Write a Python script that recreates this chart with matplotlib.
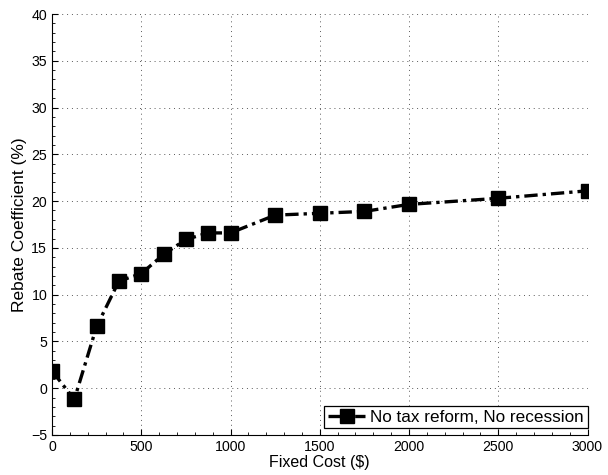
import matplotlib
matplotlib.use("Agg")
import matplotlib.pyplot as plt
from matplotlib.ticker import AutoMinorLocator

plt.rcParams['font.family'] = ['Liberation Sans', 'DejaVu Sans']
plt.rcParams['font.size'] = 10.2
plt.rcParams['axes.unicode_minus'] = True

# data
fixed_cost = [0, 125, 250, 375, 500, 625, 750, 875, 1000, 1250, 1500, 1750, 2000, 2500, 3000]
rebate = [1.85, -1.2, 6.6, 11.45, 12.25, 14.3, 15.9, 16.6, 16.6, 18.5, 18.7, 18.9, 19.65, 20.3, 21.1]
x_ticks = [0, 500, 1000, 1500, 2000, 2500, 3000]
y_ticks = [-5, 0, 5, 10, 15, 20, 25, 30, 35, 40]

fig = plt.figure(figsize=(6.08, 4.75), dpi=100)
ax = fig.add_axes([52 / 608, 1 - 435 / 475, 535.5 / 608, 421 / 475])

ax.plot(fixed_cost, rebate, color="k", linestyle=(0, (4, 1.5, 1, 1.5)), linewidth=2.4,
        marker="s", markersize=10.5, label="No tax reform, No recession")

ax.set_xlim(0, 3000)
ax.set_ylim(-5, 40)
ax.set_xticks(x_ticks)
ax.set_yticks(y_ticks)
ax.xaxis.set_minor_locator(AutoMinorLocator(5))
ax.yaxis.set_minor_locator(AutoMinorLocator(5))
ax.tick_params(which="major", direction="in", length=4, width=0.8)
ax.tick_params(which="minor", direction="in", length=2, width=0.6)

ax.spines["top"].set_visible(False)
ax.spines["right"].set_visible(False)

ax.grid(True, linestyle=(0, (1, 4)), color="0.35", linewidth=0.7)

ax.set_xlabel("Fixed Cost ($)", labelpad=1, fontsize=11.5)
ax.set_ylabel("Rebate Coefficient (%)", labelpad=3, fontsize=12.5)

leg = ax.legend(loc="lower right", bbox_to_anchor=(1.0, 7 / 421), fancybox=False,
                edgecolor="k", framealpha=1, borderpad=0.2, handlelength=2.2,
                handletextpad=0.3, borderaxespad=0.0, fontsize=12.3)
leg.get_frame().set_linewidth(0.9)

plt.savefig("out.png", dpi=100)
